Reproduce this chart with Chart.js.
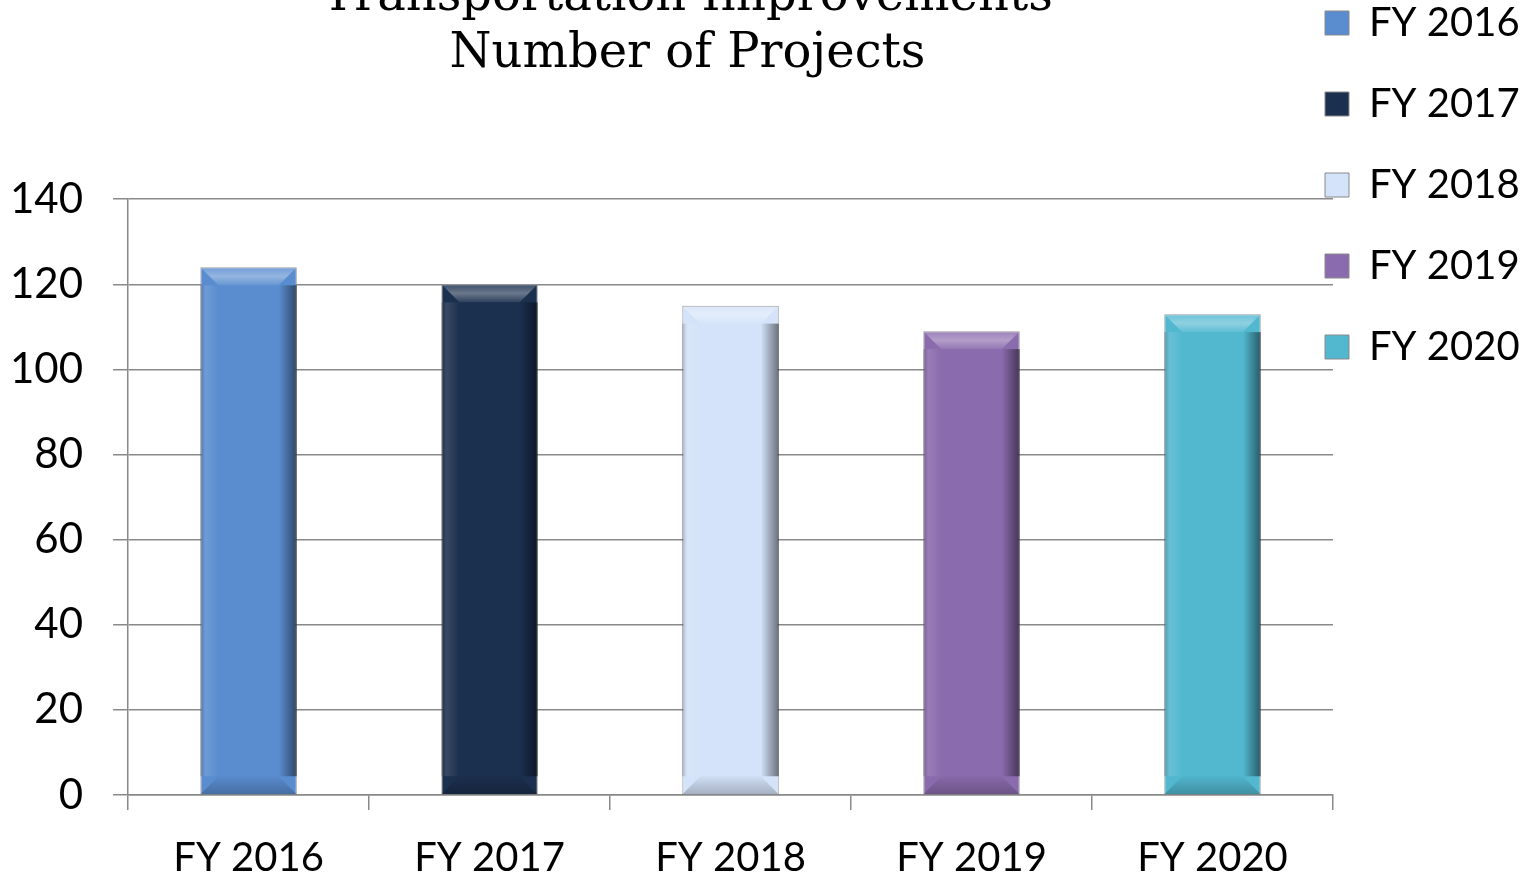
<!DOCTYPE html>
<html>
<head>
<meta charset="utf-8">
<script src="https://cdn.jsdelivr.net/npm/chart.js@4.4.1/dist/chart.umd.min.js"></script>
<style>
    html, body { margin: 0; padding: 0; background: #fff; overflow: hidden; }
    #wrap { position: absolute; left: 0; top: -38px; width: 1537px; height: 944px; }
</style>
</head>
<body>
<div id="wrap"><canvas id="projChart"></canvas></div>
<script>
var categories = ['FY 2016', 'FY 2017', 'FY 2018', 'FY 2019', 'FY 2020'];
var projects = [124, 120, 115, 109, 113];
var barColors = ['#5a8dd0', '#1b2f4e', '#d4e3f9', '#8a6bad', '#52b8d0'];
var titleLines = ['Transportation Improvements', 'Number of Projects'];
var yMax = 140;
var yStep = 20;

(function () {
    'use strict';

    var grey = '#898989';

    // Excel-style bevel on each bar, drawn over the bar elements
    var bevel = {
        id: 'bevel',
        afterDatasetsDraw: function (chart) {
            var ctx = chart.ctx;
            chart.getDatasetMeta(0).data.forEach(function (el) {
                var p = el.getProps(['x', 'y', 'base', 'width'], true);
                var l = p.x - p.width / 2, r = p.x + p.width / 2, t = p.y, b = p.base;
                var d = 18;
                ctx.save();
                var gt = ctx.createLinearGradient(0, t, 0, t + d);
                gt.addColorStop(0, 'rgba(255,255,255,0.15)');
                gt.addColorStop(0.5, 'rgba(255,255,255,0.35)');
                gt.addColorStop(1, 'rgba(255,255,255,0.08)');
                ctx.beginPath();
                ctx.moveTo(l, t); ctx.lineTo(r, t); ctx.lineTo(r - d, t + d); ctx.lineTo(l + d, t + d); ctx.closePath();
                ctx.fillStyle = gt;
                ctx.fill();
                var gb = ctx.createLinearGradient(0, b - d, 0, b);
                gb.addColorStop(0, 'rgba(0,0,0,0.02)');
                gb.addColorStop(1, 'rgba(0,0,0,0.22)');
                ctx.beginPath();
                ctx.moveTo(l, b); ctx.lineTo(r, b); ctx.lineTo(r - d, b - d); ctx.lineTo(l + d, b - d); ctx.closePath();
                ctx.fillStyle = gb;
                ctx.fill();
                var gl = ctx.createLinearGradient(l, 0, l + d, 0);
                gl.addColorStop(0, 'rgba(0,0,0,0.22)');
                gl.addColorStop(0.3, 'rgba(255,255,255,0.12)');
                gl.addColorStop(1, 'rgba(255,255,255,0)');
                ctx.fillStyle = gl;
                ctx.fillRect(l, t + d, d, b - t - 2 * d);
                var gr = ctx.createLinearGradient(r - d, 0, r, 0);
                gr.addColorStop(0, 'rgba(0,0,0,0)');
                gr.addColorStop(1, 'rgba(0,0,0,0.5)');
                ctx.fillStyle = gr;
                ctx.fillRect(r - d, t + d, d, b - t - 2 * d);
                ctx.restore();
            });
        }
    };

    // legend floats over the right end of the plot, title sits left of centre
    var placeBoxes = {
        id: 'placeBoxes',
        afterLayout: function (chart) {
            var lg = chart.legend;
            lg.left = chart.chartArea.right - 49;
            lg.right = chart.width;
            var tb = chart.titleBlock;
            tb.left -= 71;
            tb.right -= 71;
        }
    };

    var el = document.getElementById('projChart');
    new Chart(el.getContext('2d'), {
        type: 'bar',
        data: {
            labels: categories,
            datasets: [{
                label: 'Number of Projects',
                data: projects,
                backgroundColor: barColors,
                borderColor: 'rgba(130,130,130,0.9)',
                borderWidth: 1,
                barPercentage: 0.4,
                categoryPercentage: 1.0
            }]
        },
        options: {
            responsive: true,
            maintainAspectRatio: false,
            animation: false,
            layout: { padding: { left: -20, top: 0, right: 0, bottom: 0 } },
            plugins: {
                title: {
                    display: true,
                    text: titleLines,
                    color: '#000',
                    font: { family: 'DejaVu Serif', size: 48, weight: 'normal', lineHeight: 1.19 },
                    padding: { top: 7, bottom: 116 }
                },
                legend: {
                    position: 'right',
                    align: 'start',
                    maxWidth: 204,
                    onClick: null,
                    labels: {
                        color: '#000',
                        font: { family: 'Lato', size: 40 },
                        boxWidth: 24,
                        boxHeight: 24,
                        padding: 41,
                        generateLabels: function () {
                            return categories.map(function (c, i) {
                                return { text: c, fillStyle: barColors[i], strokeStyle: grey, lineWidth: 1, hidden: false, index: i };
                            });
                        }
                    }
                },
                tooltip: { enabled: false }
            },
            scales: {
                x: {
                    grid: { offset: true, drawOnChartArea: false, color: grey, tickLength: 15, lineWidth: 1.5 },
                    border: { color: grey, width: 1.5 },
                    ticks: { color: '#000', font: { family: 'Lato', size: 40 }, padding: 24 }
                },
                y: {
                    min: 0,
                    max: yMax,
                    grid: { color: grey, tickLength: 15, lineWidth: 1.5 },
                    border: { color: grey, width: 1.5 },
                    ticks: { stepSize: yStep, color: '#000', font: { family: 'Lato', size: 42 }, padding: 30 }
                }
            }
        },
        plugins: [bevel, placeBoxes]
    });
})();
</script>
</body>
</html>
